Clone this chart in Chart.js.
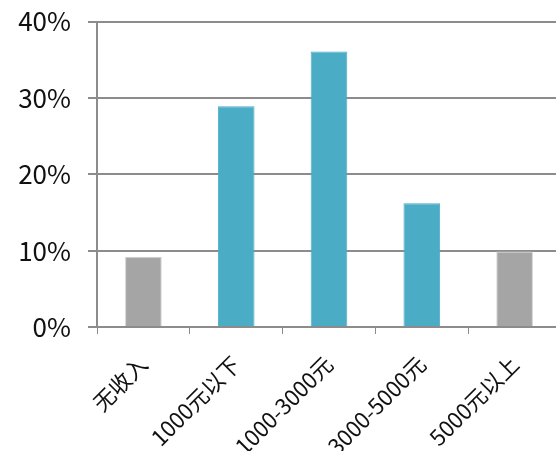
<!DOCTYPE html>
<html>
<head>
<meta charset="utf-8">
<script src="https://cdn.jsdelivr.net/npm/chart.js@4/dist/chart.umd.min.js"></script>
<style>
html,body{margin:0;padding:0;overflow:hidden;background:#fff;width:556px;height:451px;}
#wrap{position:absolute;left:0;top:-11px;width:561px;height:462px;}
</style>
</head>
<body>
<div id="wrap"><canvas id="c"></canvas></div>
<script>
const categories = ['无收入', '1000元以下', '1000-3000元', '3000-5000元', '5000元以上'];
const shares = [9.2, 28.9, 36.1, 16.2, 9.9];
const barColors = ['#a5a5a5', '#4bacc6', '#4bacc6', '#4bacc6', '#a5a5a5'];
const barBorders = ['#d2d2d2', '#4bacc6', '#4bacc6', '#4bacc6', '#d2d2d2'];
const yTicks = [0, 10, 20, 30, 40];

const FONT = '"Noto Sans CJK SC", "Noto Sans", sans-serif';

new Chart(document.getElementById('c'), {
  type: 'bar',
  data: {
    labels: categories,
    datasets: [{
      data: shares,
      backgroundColor: barColors,
      borderColor: barBorders,
      borderWidth: 1,
      barPercentage: 1,
      categoryPercentage: 0.395
    }]
  },
  options: {
    responsive: true,
    maintainAspectRatio: false,
    animation: false,
    devicePixelRatio: 1,
    layout: { padding: { top: 0, right: 0, left: 0, bottom: 0 } },
    plugins: { legend: { display: false }, tooltip: { enabled: false } },
    scales: {
      x: {
        offset: true,
        grid: { display: true, drawOnChartArea: false, offset: true, color: '#8c8c8c', lineWidth: 1, tickLength: 7 },
        border: { color: '#8c8c8c', width: 2 },
        ticks: {
          color: '#111',
          font: { family: FONT, size: 22 },
          minRotation: 45, maxRotation: 45,
          autoSkip: false,
          padding: 17
        },
        afterFit: s => { s.height = 124; }
      },
      y: {
        min: 0, max: 40,
        afterBuildTicks: s => { s.ticks = yTicks.map(v => ({ value: v })); },
        grid: { color: '#8c8c8c', lineWidth: 2, tickLength: 9 },
        border: { color: '#8c8c8c', width: 2 },
        ticks: {
          color: '#111',
          font: { family: FONT, size: 26 },
          padding: 17,
          callback: v => v + '%'
        },
        afterFit: s => { s.width = 97; }
      }
    }
  }
});
</script>
</body>
</html>
